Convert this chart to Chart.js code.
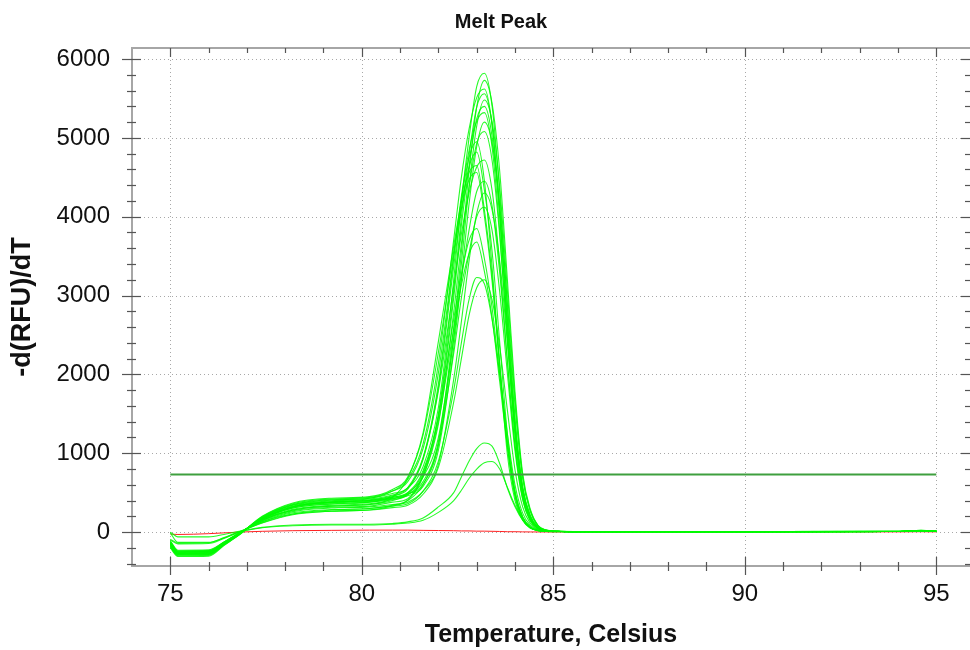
<!DOCTYPE html>
<html>
<head>
<meta charset="utf-8">
<title>Melt Peak</title>
<script src="https://cdn.jsdelivr.net/npm/chart.js@4.4.1/dist/chart.umd.min.js"></script>
<style>
  html, body { margin: 0; padding: 0; background: #fff; }
</style>
</head>
<body>
<canvas id="meltChart" width="970" height="650"></canvas>
<script>
// temperatures (Celsius) shared by every trace
const temps = [75.0, 75.2, 76.0, 76.4, 76.8, 77.4, 78.2, 79.2, 80.2, 80.8,
               81.2, 81.6, 82.0, 82.4, 82.6, 82.8, 83.0, 83.2, 83.4, 83.6,
               83.8, 84.0, 84.2, 84.4, 84.6, 84.8, 85.2, 86.0, 94.0, 94.6, 95.0];

const xTicks = [75, 80, 85, 90, 95];
const yTicks = [0, 1000, 2000, 3000, 4000, 5000, 6000];
const threshold = 730;

// -d(RFU)/dT per well
const trace01 = [-160,-270,-265,-150,-25,180,340,395,420,470,560,830,1580,3200,4190,5000,5650,5820,5410,4310,2850,1460,580,200,60,22,8,5,8,20,12];
const trace02 = [-140,-255,-250,-140,-20,170,320,375,400,430,480,640,1150,2580,3550,4580,5390,5730,5440,4580,3210,1780,745,290,86,29,9,5,7,18,10];
const trace03 = [-180,-290,-285,-160,-30,190,350,410,430,520,670,1120,2140,3710,4500,5110,5510,5620,5170,4050,2590,1290,510,170,56,22,8,5,9,22,14];
const trace04 = [-150,-265,-260,-145,-20,160,305,355,380,420,500,780,1500,3060,4000,4780,5390,5560,5170,4110,2720,1390,556,195,56,22,8,5,8,19,11];
const trace05 = [-170,-280,-275,-155,-25,175,330,385,410,445,480,610,1100,2470,3400,4380,5150,5480,5210,4380,3070,1700,712,274,82,27,9,6,8,20,12];
const trace06 = [-130,-250,-245,-135,-15,150,280,330,350,400,486,756,1460,2970,3890,4640,5240,5400,5020,4000,2650,1350,540,189,54,22,8,5,7,18,10];
const trace07 = [-190,-300,-295,-165,-35,195,360,420,440,520,640,1060,2020,3510,4260,4840,5210,5320,4890,3830,2450,1220,480,160,53,21,8,5,9,21,13];
const trace08 = [-160,-270,-265,-150,-20,165,315,370,390,425,460,580,1040,2340,3220,4160,4890,5200,4940,4160,2910,1610,676,260,78,26,9,5,8,20,12];
const trace09 = [-140,-255,-250,-140,-15,155,290,340,360,410,470,711,1370,2790,3660,4370,4930,5080,4720,3760,2490,1270,508,178,51,20,8,5,7,18,10];
const trace10 = [-170,-280,-275,-150,-20,170,320,380,400,460,545,940,1880,3470,4210,4750,4950,4460,3370,2130,990,400,150,50,20,10,7,5,8,19,11];
const trace11 = [-180,-290,-285,-160,-30,185,345,405,430,490,560,920,1830,3370,4100,4630,4820,4340,3570,2410,1250,530,193,64,24,12,8,5,9,21,13];
const trace12 = [-150,-265,-260,-145,-20,160,305,360,380,450,566,944,1790,3120,3780,4300,4630,4720,4340,3400,2170,1090,425,142,47,19,7,5,8,19,11];
const trace13 = [-200,-310,-305,-170,-35,200,370,430,450,540,700,1260,2420,3630,4190,4560,4650,4090,3260,2140,1120,465,163,56,20,10,7,5,9,22,14];
const trace14 = [-130,-250,-245,-135,-15,150,280,330,350,440,684,1230,2280,3560,4100,4470,4560,4010,3190,2100,1090,456,160,55,20,10,7,5,7,18,10];
const trace15 = [-170,-280,-275,-150,-20,170,320,380,400,440,500,700,1200,2450,3200,3830,4320,4450,4140,3290,2180,1110,445,156,45,18,7,5,8,19,11];
const trace16 = [-120,-240,-235,-130,-10,140,260,305,320,350,380,520,860,1940,2670,3440,4040,4300,4090,3440,2410,1330,559,215,65,22,8,5,7,17,10];
const trace17 = [-110,-230,-225,-125,-10,130,245,285,300,340,400,600,1110,2270,2970,3540,4000,4120,3830,3050,2020,1030,412,144,41,16,7,5,7,17,9];
const trace18 = [-140,-255,-250,-140,-15,150,270,315,330,380,424,730,1460,2700,3270,3700,3850,3470,2850,2000,1160,500,193,65,22,10,7,5,7,18,10];
const trace19 = [-120,-240,-235,-130,-10,130,230,265,280,330,405,700,1400,2580,3130,3530,3680,3310,2720,1910,1100,478,184,60,20,9,7,5,7,17,9];
const trace20 = [-100,-150,-145,-80,0,120,230,280,300,330,360,520,900,1800,2400,2950,3230,3150,2700,2000,1250,600,240,85,28,11,7,5,7,16,9];
const trace21 = [-90,-140,-135,-75,5,115,220,265,280,310,340,480,820,1650,2200,2750,3100,3200,2950,2350,1550,790,320,110,35,13,7,5,7,16,9];
const lowTrace1 = [0,-60,-60,-30,10,60,90,100,100,110,130,180,320,500,700,900,1060,1130,1090,870,560,320,150,55,18,8,6,5,7,15,9];
const lowTrace2 = [-10,-130,-130,-70,0,55,80,90,90,100,115,150,250,400,530,680,800,880,895,800,570,340,160,60,20,8,6,5,7,15,9];
const negControl = [-25,-30,-20,-10,0,10,18,22,25,25,25,22,20,18,15,15,12,12,10,8,5,5,3,2,2,2,2,2,3,5,3];

const greenTraces = [trace01, trace02, trace03, trace04, trace05, trace06, trace07,
                     trace08, trace09, trace10, trace11, trace12, trace13, trace14,
                     trace15, trace16, trace17, trace18, trace19, trace20, trace21,
                     lowTrace1, lowTrace2];

const toPoints = vals => vals.map((v, i) => ({ x: temps[i], y: v }));

const FONT = 'Arial, "Liberation Sans", sans-serif';

const datasets = [];
// threshold first so it is painted on top
datasets.push({
    data: [{ x: 75, y: threshold }, { x: 95, y: threshold }],
    borderColor: '#3f9f3f',
    borderWidth: 2,
    pointRadius: 0
});
greenTraces.forEach(t => {
    datasets.push({
        data: toPoints(t),
        borderColor: 'rgba(0, 250, 0, 0.85)',
        borderWidth: 1.1,
        pointRadius: 0,
        cubicInterpolationMode: 'monotone'
    });
});
datasets.push({
    data: toPoints(negControl),
    borderColor: '#ff2020',
    borderWidth: 1,
    pointRadius: 0,
    cubicInterpolationMode: 'monotone'
});

// ==========================
// grid, axes, ticks, title
// ==========================
function seg(ctx, x1, y1, x2, y2) {
    ctx.beginPath();
    ctx.moveTo(x1, y1);
    ctx.lineTo(x2, y2);
    ctx.stroke();
}

const frame = {
    id: 'frame',
    beforeDatasetsDraw(chart) {
        const { ctx, chartArea: a, scales: { x, y } } = chart;
        ctx.save();
        ctx.strokeStyle = '#a8a8a8';
        ctx.lineWidth = 1;
        ctx.setLineDash([1, 3]);
        xTicks.forEach(v => {
            const px = Math.round(x.getPixelForValue(v)) + 0.5;
            seg(ctx, px, a.top, px, a.bottom);
        });
        yTicks.forEach(v => {
            const py = Math.round(y.getPixelForValue(v)) + 0.5;
            seg(ctx, a.left, py, a.right, py);
        });
        ctx.restore();
    },
    afterDatasetsDraw(chart) {
        const { ctx, chartArea: a, scales: { x, y } } = chart;
        ctx.save();
        ctx.strokeStyle = '#a6a6a6';
        ctx.lineWidth = 2;
        seg(ctx, a.left, a.top, a.left, a.bottom + 1);
        seg(ctx, a.left - 1, a.bottom, a.right, a.bottom);
        seg(ctx, a.left - 1, a.top, a.right, a.top);

        ctx.strokeStyle = '#555';
        ctx.lineWidth = 1.2;
        for (let t = 75; t <= 95; t++) {
            const px = Math.round(x.getPixelForValue(t)) + 0.5;
            const major = t % 5 === 0;
            seg(ctx, px, a.bottom - (major ? 9 : 4), px, a.bottom + (major ? 9 : 5));
            seg(ctx, px, a.top, px, a.top + (major ? 9 : 5));
        }
        for (let v = -400; v <= 6000; v += 200) {
            const py = Math.round(y.getPixelForValue(v)) + 0.5;
            const major = v % 1000 === 0;
            seg(ctx, a.left - (major ? 10 : 5), py, a.left + (major ? 9 : 4), py);
            seg(ctx, a.right - (major ? 9 : 5), py, a.right, py);
        }
        ctx.restore();
    },
    afterDraw(chart) {
        const { ctx } = chart;
        ctx.save();
        ctx.fillStyle = '#111';
        ctx.font = 'bold 20px ' + FONT;
        ctx.textAlign = 'center';
        ctx.textBaseline = 'middle';
        ctx.fillText('Melt Peak', 501, 22);
        ctx.restore();
    }
};

new Chart(document.getElementById('meltChart'), {
    type: 'line',
    data: { datasets },
    options: {
        responsive: false,
        animation: false,
        events: [],
        layout: { padding: { top: 48, right: 0, left: 0, bottom: 0 } },
        plugins: {
            legend: { display: false },
            tooltip: { enabled: false }
        },
        scales: {
            x: {
                type: 'linear',
                min: 74,
                max: 95.88,
                afterBuildTicks: s => { s.ticks = xTicks.map(v => ({ value: v })); },
                afterFit: s => { s.height = 84; },
                grid: { display: false },
                border: { display: false },
                ticks: {
                    padding: 6,
                    color: '#111',
                    font: { family: FONT, size: 24 }
                },
                title: {
                    display: true,
                    text: 'Temperature, Celsius',
                    color: '#111',
                    font: { family: FONT, size: 25, weight: 'bold' },
                    padding: 0
                }
            },
            y: {
                min: -430,
                max: 6140,
                afterBuildTicks: s => { s.ticks = yTicks.map(v => ({ value: v })); },
                afterFit: s => { s.width = 132; },
                grid: { display: false },
                border: { display: false },
                ticks: {
                    padding: 14,
                    color: '#111',
                    font: { family: FONT, size: 24 },
                    callback: v => String(v)
                },
                title: {
                    display: true,
                    text: '-d(RFU)/dT',
                    color: '#111',
                    font: { family: FONT, size: 27, weight: 'bold' },
                    padding: { top: 6, bottom: 0 }
                }
            }
        }
    },
    plugins: [frame]
});
</script>
</body>
</html>
